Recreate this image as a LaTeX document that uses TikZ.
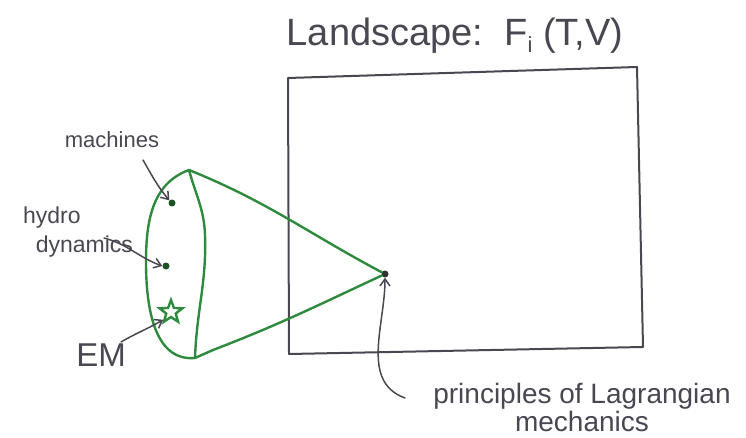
\documentclass[tikz,border=0pt]{standalone}
\usepackage{fontspec}
\setmainfont{Liberation Sans}
\usetikzlibrary{arrows.meta,shapes.geometric}
\definecolor{pen}{HTML}{4A4652}
\definecolor{grn}{HTML}{2E8B3E}
\begin{document}
\begin{tikzpicture}[x=1pt,y=-1pt,
  lbl/.style={text=pen,inner sep=0pt,align=center},
  greenline/.style={draw=grn,line width=2.4pt,line cap=round,line join=round},
  penline/.style={draw=pen,line width=1.5pt,line cap=round},
  ptr/.style={penline,-{Straight Barb[length=7pt,width=10pt]}},
  gdot/.style={circle,fill=grn!60!black,inner sep=0pt,minimum size=7pt}]
\useasboundingbox (0,0) rectangle (746,438);
% landscape box
\coordinate (r1) at (288,78);
\coordinate (r2) at (637,67);
\coordinate (r3) at (643,347);
\coordinate (r4) at (289,354);
\draw[pen,line width=2pt,line join=round] (r1) -- (r2) -- (r3) -- (r4) -- cycle;
\node[lbl,font=\fontsize{38}{40}\selectfont] (title) at (455,36) {Landscape:\ \ F\raisebox{-7pt}{\fontsize{22}{22}\selectfont i} (T,V)};
% cone
\coordinate (T) at (189,170);
\coordinate (B) at (195,358);
\coordinate (Bc) at (213,350);
\node[circle,fill=black!80,inner sep=0pt,minimum size=7pt] (apex) at (385,274) {};
\draw[greenline] (T) to[out=200,in=90] (146,262) to[out=270,in=185] (B);
\draw[greenline] (T) to[out=-75,in=92] (205,235) to[out=272,in=88] (B);
\draw[greenline] (B) -- (Bc);
\draw[greenline] (T) to[out=-22,in=152] (apex);
\draw[greenline] (Bc) to[out=21,in=205] (apex);
% points
\node[gdot] (m) at (172,203) {};
\node[gdot] (h) at (166,266) {};
\node[star,star points=5,star point ratio=2.4,draw=grn,line width=2.4pt,minimum size=24pt,inner sep=0pt] (em) at (171,312) {};
% labels
\node[lbl,font=\fontsize{22}{24}\selectfont] (mach) at (112,140) {machines};
\node[lbl,font=\fontsize{23}{29}\selectfont,align=left] (hydro) at (78,232) {hydro\\\ \ dynamics};
\node[lbl,font=\fontsize{33}{35}\selectfont] (EM) at (101,355) {EM};
\node[lbl,font=\fontsize{28}{28}\selectfont] (lag) at (582,407) {principles of Lagrangian\\mechanics};
% pointers
\coordinate (ms) at (143,160);
\coordinate (hs) at (104,238);
\coordinate (es) at (121,342);
\coordinate (ls) at (405,398);
\draw[ptr] (ms) to[out=-60,in=130] (m.north west);
\draw[ptr] (hs) to[out=-15,in=160] (h.west);
\draw[ptr] (es) to[out=30,in=210] (em.south west);
\draw[ptr] (ls) to[out=160,in=-90] (apex.south);
\end{tikzpicture}
\end{document}
